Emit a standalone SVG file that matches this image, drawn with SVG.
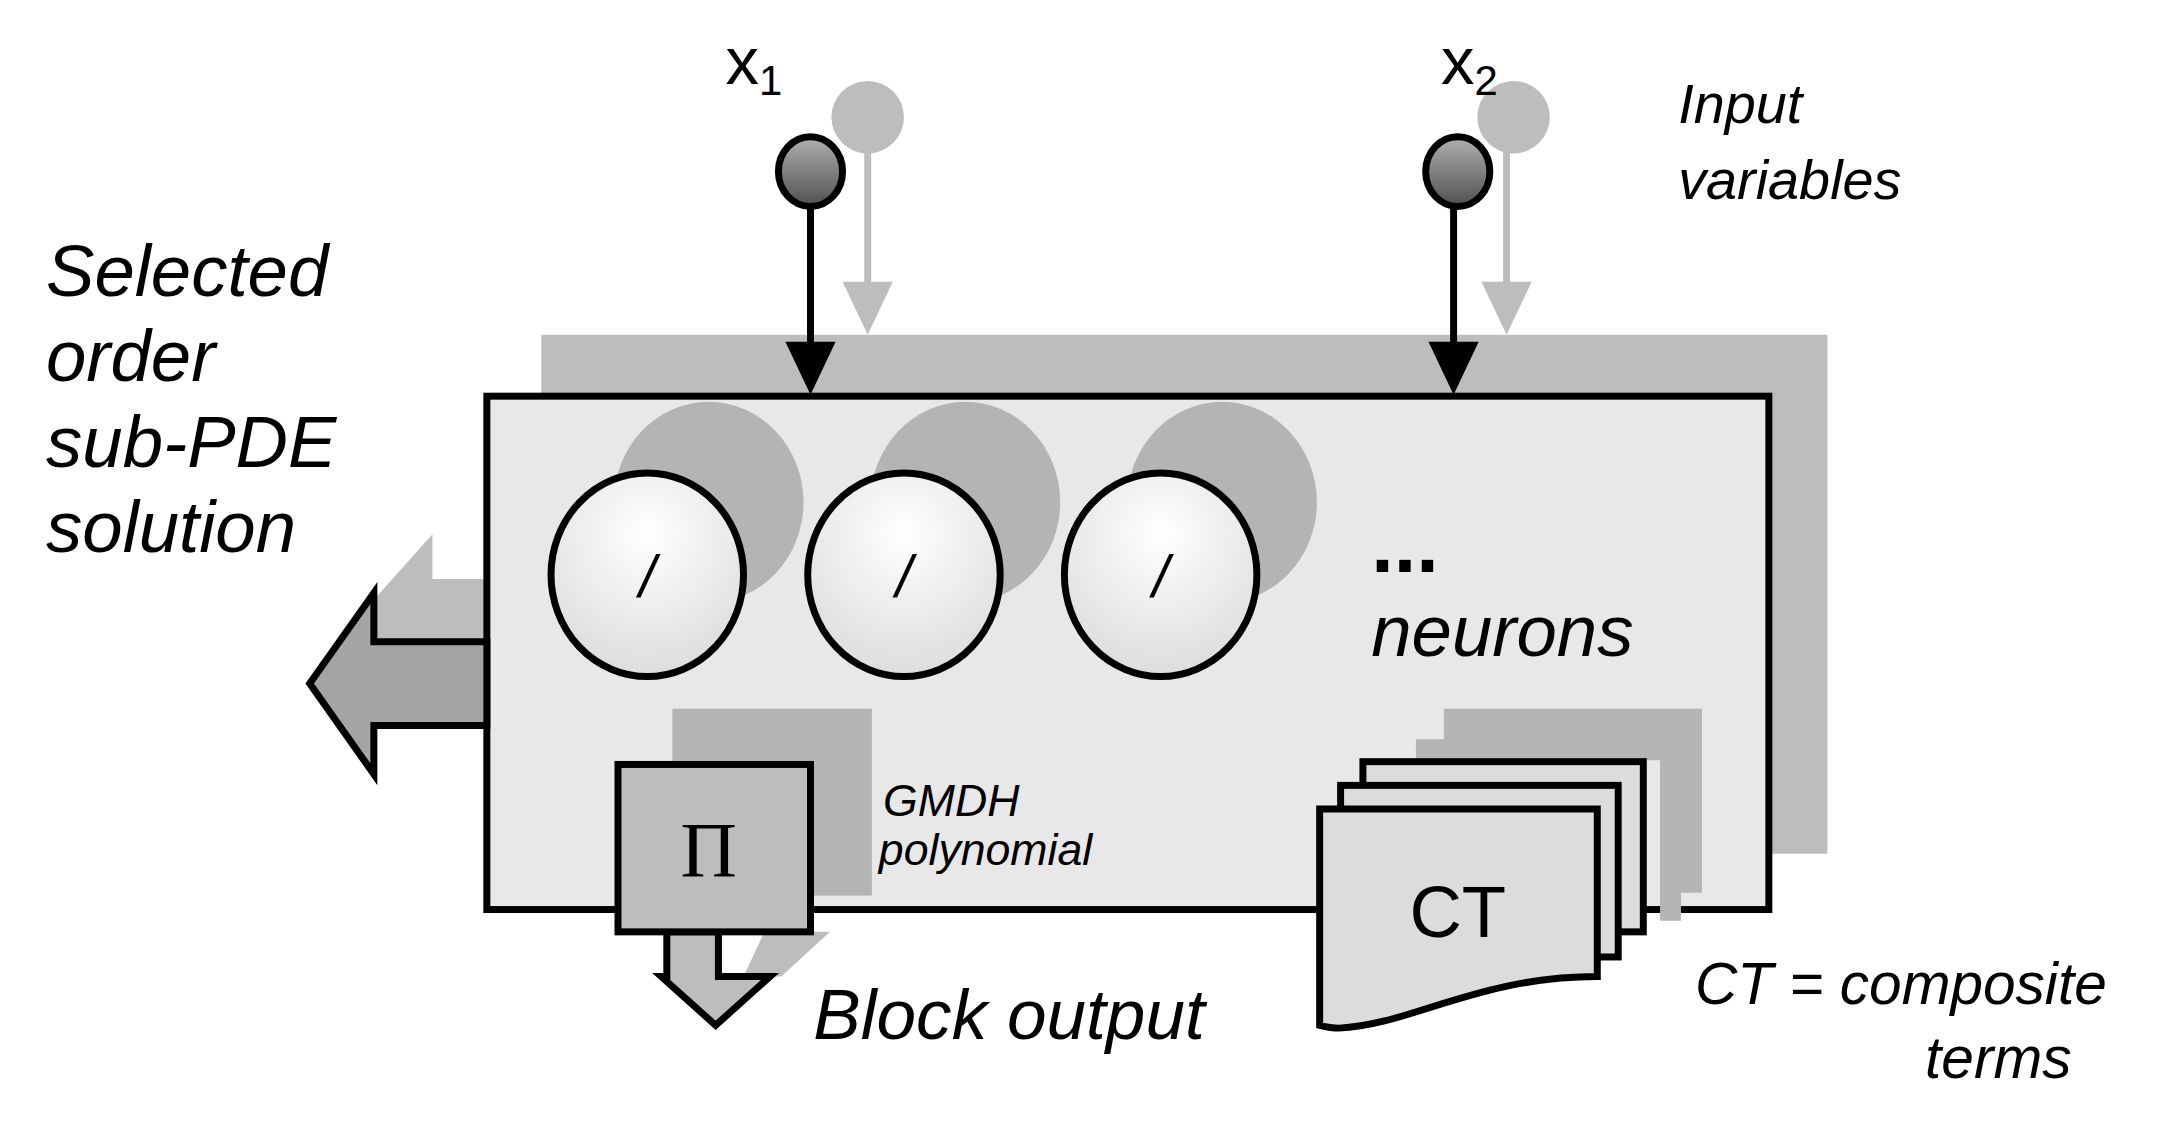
<svg xmlns="http://www.w3.org/2000/svg" width="2183" height="1121" viewBox="0 0 2183 1121">
<defs>
<radialGradient id="ng" cx="0.5" cy="0.3" r="0.8"><stop offset="0" stop-color="#ffffff"/><stop offset="1" stop-color="#d8d8d8"/></radialGradient>
<linearGradient id="bg" x1="0" y1="0" x2="0" y2="1"><stop offset="0" stop-color="#b0b0b0"/><stop offset="1" stop-color="#505050"/></linearGradient>
<style>
.t{font-family:"Liberation Sans",Arial,sans-serif;fill:#000}
.i{font-style:italic}
.blk{stroke:#000;stroke-width:5}
.sh{fill:#b4b4b4}
</style>
</defs>
<rect width="2183" height="1121" fill="#fff"/>
<g transform="scale(1.395)">
<g id="backplate"><rect x="388" y="240" width="922" height="372" fill="#bdbdbd"/></g>
<g id="outputArrowShadow"><polygon points="310,383 310,415 349,415 349,475 268,475 250,450" fill="#bdbdbd"/></g>
<g id="mainBlock"><rect x="349" y="284" width="919" height="368" fill="#e8e8e8" class="blk"/></g>
<g id="connectors">
<line x1="622" y1="95" x2="622" y2="205" stroke="#bdbdbd" stroke-width="5"/>
<polygon points="604,202 640,202 622,240" fill="#bdbdbd"/>
<line x1="1080" y1="95" x2="1080" y2="205" stroke="#bdbdbd" stroke-width="5"/>
<polygon points="1062,202 1098,202 1080,240" fill="#bdbdbd"/>
<line x1="581" y1="148" x2="581" y2="248" stroke="#000" stroke-width="5"/>
<polygon points="563,245 599,245 581,283" fill="#000"/>
<line x1="1042" y1="148" x2="1042" y2="248" stroke="#000" stroke-width="5"/>
<polygon points="1024,245 1060,245 1042,283" fill="#000"/>
</g>
<g id="input-x1">
<circle cx="622" cy="84" r="26" fill="#bdbdbd"/>
<ellipse cx="581" cy="123" rx="23" ry="25" fill="url(#bg)" class="blk"/>
<text x="520" y="60" class="t" font-size="48">x<tspan font-size="30" dy="8">1</tspan></text>
</g>
<g id="input-x2">
<circle cx="1085" cy="84" r="26" fill="#bdbdbd"/>
<ellipse cx="1045" cy="123" rx="23" ry="25" fill="url(#bg)" class="blk"/>
<text x="1033" y="60" class="t" font-size="48">x<tspan font-size="30" dy="8">2</tspan></text>
</g>
<g id="label-input"><text class="t i" font-size="40"><tspan x="1203" y="88">Input</tspan><tspan x="1203" y="143">variables</tspan></text></g>
<g id="label-selected"><text class="t i" font-size="52"><tspan x="33" y="212">Selected</tspan><tspan x="33" y="273">order</tspan><tspan x="33" y="335">sub-PDE</tspan><tspan x="33" y="396">solution</tspan></text></g>
<g id="neuron1"><ellipse cx="508" cy="360" rx="68" ry="72" class="sh"/><ellipse cx="464" cy="412" rx="69" ry="73" fill="url(#ng)" class="blk"/><text x="464" y="428" class="t i" font-size="42" text-anchor="middle">/</text></g>
<g id="neuron2"><ellipse cx="692" cy="360" rx="68" ry="72" class="sh"/><ellipse cx="648" cy="412" rx="69" ry="73" fill="url(#ng)" class="blk"/><text x="648" y="428" class="t i" font-size="42" text-anchor="middle">/</text></g>
<g id="neuron3"><ellipse cx="876" cy="360" rx="68" ry="72" class="sh"/><ellipse cx="832" cy="412" rx="69" ry="73" fill="url(#ng)" class="blk"/><text x="832" y="428" class="t i" font-size="42" text-anchor="middle">/</text></g>
<g id="label-neurons"><text x="983" y="410" class="t" font-size="58" font-weight="bold">...</text><text x="983" y="470" class="t i" font-size="52">neurons</text></g>
<g id="outputArrow"><polygon points="222,490 268,425 268,460 349,460 349,520 268,520 268,555" fill="#a4a4a4" class="blk"/></g>
<g id="gmdh">
<rect x="482" y="508" width="143" height="134" class="sh"/>
<polygon points="548,668 595,668 560,700 533,700" fill="#bdbdbd"/>
<polygon points="478,668 515,668 515,700 552,700 513,735 474,700 478,700" fill="#bdbdbd" class="blk"/>
<rect x="443" y="548" width="138" height="120" fill="#bdbdbd" class="blk"/>
<text x="508" y="628" font-family="Liberation Serif,serif" font-size="56" text-anchor="middle">Π</text>
<text class="t i" font-size="32"><tspan x="633" y="585">GMDH</tspan><tspan x="630" y="620">polynomial</tspan></text>
</g>
<g id="label-block"><text x="583" y="745" class="t i" font-size="51">Block output</text></g>
<g id="ct">
<polygon points="1035,508 1220,508 1220,640 1205,640 1205,660 1190,660 1190,545 1015,545 1015,530 1035,530" class="sh"/>
<rect x="977" y="546" width="201" height="122" fill="#dcdcdc" class="blk"/>
<rect x="961" y="563" width="199" height="123" fill="#dcdcdc" class="blk"/>
<path d="M946,580 H1145 V700 C1060,700 1010,735 960,737 C955,737 950,736 946,735 Z" fill="#dcdcdc" class="blk"/>
<text x="1045" y="672" class="t" font-size="52" text-anchor="middle">CT</text>
</g>
<g id="label-ct"><text class="t i" font-size="42"><tspan x="1215" y="720">CT = composite</tspan><tspan x="1380" y="773">terms</tspan></text></g>
</g>
</svg>
